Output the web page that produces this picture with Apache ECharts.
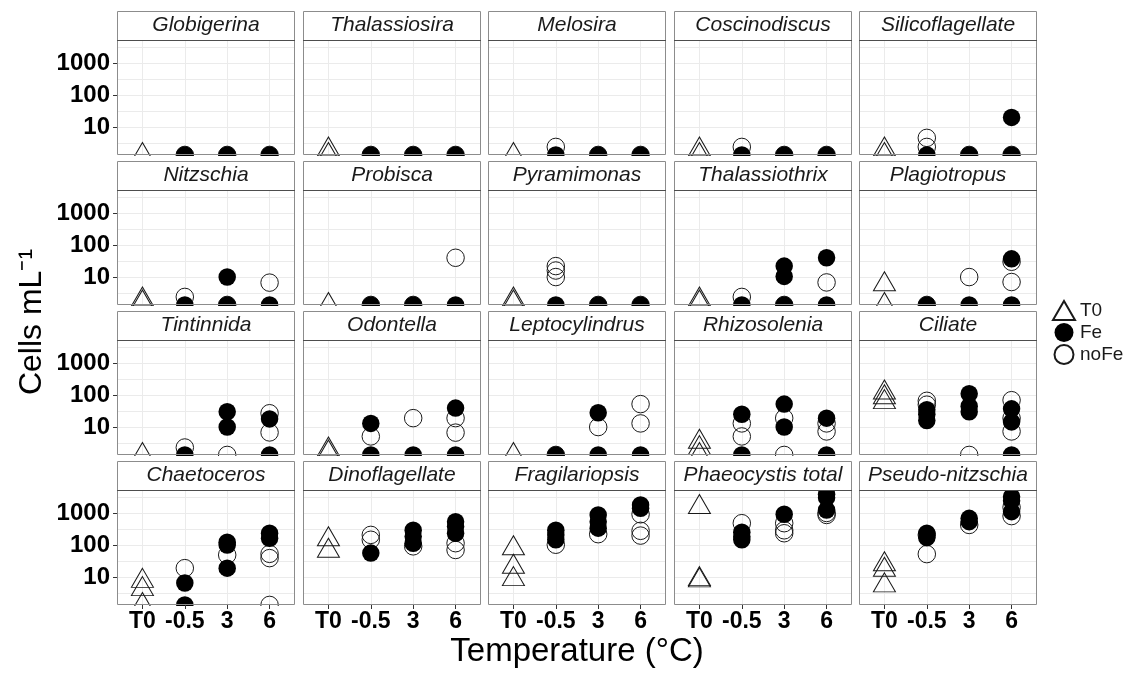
<!DOCTYPE html>
<html>
<head>
<meta charset="utf-8">
<script src="https://cdn.jsdelivr.net/npm/echarts@6/dist/echarts.min.js"></script>
<style>
html, body { margin: 0; background: #fff; }
#chart { width: 1136px; height: 674px; }
</style>
</head>
<body>
<div id="chart"></div>
<script>
// cells per mL; 1.35 = sits on the bottom edge of the panel
var species = ['Globigerina', 'Thalassiosira', 'Melosira', 'Coscinodiscus', 'Silicoflagellate',
	'Nitzschia', 'Probisca', 'Pyramimonas', 'Thalassiothrix', 'Plagiotropus',
	'Tintinnida', 'Odontella', 'Leptocylindrus', 'Rhizosolenia', 'Ciliate',
	'Chaetoceros', 'Dinoflagellate', 'Fragilariopsis', 'Phaeocystis total', 'Pseudo-nitzschia'];
var temps = ['T0', '-0.5', '3', '6'];

// T0 values per species
var t0Cells = [
	[1.35], [2, 1.35], [1.35], [2, 1.35], [2, 1.35],
	[2, 1.6], [1.35], [2, 1.6], [2, 1.6], [6, 1.35],
	[1.35], [2, 1.6], [1.35], [3.5, 2.2, 1.35], [120, 85, 60],
	[7.6, 4.2, 1.35], [151, 66], [79, 21, 8.6], [1540, 8.6, 7.9], [25, 17, 5.5]
];
// Fe values per species, for -0.5, 3, 6
var feCells = [
	[[1.35], [1.35], [1.35]],
	[[1.35], [1.35], [1.35]],
	[[1.35], [1.35], [1.35]],
	[[1.35], [1.35], [1.35]],
	[[1.35], [1.35], [20, 1.35]],
	[[1.35], [10, 1.35], [1.35]],
	[[1.35], [1.35], [1.35]],
	[[1.35], [1.35], [1.35]],
	[[1.35], [22, 10.5, 1.35], [40, 1.35]],
	[[1.35], [1.35], [37, 1.35]],
	[[1.35], [30, 10], [18, 1.35]],
	[[13, 1.35], [1.35], [39, 1.35]],
	[[1.35], [28, 1.35], [1.35]],
	[[25, 1.35], [52, 10], [19, 1.35]],
	[[35, 25, 16], [110, 45, 30], [37, 14.5, 1.35]],
	[[6.5, 1.35], [123, 100, 19], [233, 163]],
	[[56], [288, 183, 114], [536, 378, 233]],
	[[288, 207, 145], [867, 536, 336], [1778, 1400]],
	[[250, 183, 145], [910], [3830, 3000, 1240]],
	[[233, 170], [680, 536], [3200, 2400, 1100]]
];
// noFe values per species, for -0.5, 3, 6
var noFeCells = [
	[[1.35], [1.35], [1.35]],
	[[1.35], [1.35], [1.35]],
	[[2.4], [1.35], [1.35]],
	[[2.4], [1.35], [1.35]],
	[[4.6, 2.4], [1.35], [1.35]],
	[[2.4], [1.35], [6.7]],
	[[1.35], [1.35], [40]],
	[[22, 16, 10], [1.35], [1.35]],
	[[2.4], [1.35], [6.8]],
	[[1.35], [10], [30, 7]],
	[[2.3], [1.35], [27, 6.8]],
	[[5.1], [19], [19, 6.7]],
	[[1.35], [10], [52, 13]],
	[[13, 5.1], [19, 1.35], [13, 7.3]],
	[[66, 50], [1.35], [69, 19, 7.3]],
	[[19], [49], [53, 39, 1.35]],
	[[207, 146], [91], [114, 70]],
	[[102], [218], [910, 277, 197]],
	[[480], [480, 288, 233], [1000, 867]],
	[[207, 52], [423], [1500, 800]]
];

var yTicks = [10, 100, 1000];
var yGrid = [3.162, 10, 31.62, 100, 316.2, 1000, 3162];

var font = '"Liberation Sans", Arial, Helvetica, sans-serif';
var panelW = 178, panelH = 115, stripH = 29;
var chart = echarts.init(document.getElementById('chart'));

var grids = [], xAxes = [], yAxes = [], series = [], graphics = [];

function points(byTemp) {
	var out = [];
	byTemp.forEach(function (vals, k) {
		vals.forEach(function (v) { out.push([k + 1, v]); });
	});
	return out;
}

species.forEach(function (name, i) {
	var row = Math.floor(i / 5), col = i % 5;
	var left = Math.round(117 + col * 185.5), top = 40 + row * 150;
	grids.push({ left: left, top: top, width: panelW, height: panelH });

	var xi = xAxes.length;
	xAxes.push({
		type: 'value', gridIndex: i, min: -0.6, max: 3.6,
		axisLine: { show: false, onZero: false },
		axisTick: { show: false, customValues: [0, 1, 2, 3] },
		axisLabel: { show: false },
		splitLine: { lineStyle: { color: '#ebebeb', width: 1 } }
	});
	if (row === 3) {
		xAxes.push({
			type: 'value', gridIndex: i, min: -0.6, max: 3.6, position: 'bottom', z: 30,
			axisLine: { show: false, onZero: false },
			axisTick: { customValues: [0, 1, 2, 3], length: 4, lineStyle: { color: '#333' } },
			axisLabel: {
				customValues: [0, 1, 2, 3], margin: 5,
				formatter: function (v) { return temps[Math.round(v)]; },
				fontSize: 23, fontWeight: 'bold', color: '#000', fontFamily: font
			},
			splitLine: { show: false }
		});
	}

	var yi = yAxes.length;
	yAxes.push({
		type: 'log', logBase: 10, gridIndex: i, min: 1.343, max: 5212,
		axisLine: { show: false, onZero: false },
		axisTick: { show: false, customValues: yGrid },
		axisLabel: { show: false },
		splitLine: { lineStyle: { color: '#ebebeb', width: 1 } }
	});
	if (col === 0) {
		yAxes.push({
			type: 'log', logBase: 10, gridIndex: i, min: 1.343, max: 5212, position: 'left',
			axisLine: { show: false, onZero: false },
			axisTick: { customValues: yTicks, length: 4, lineStyle: { color: '#333' } },
			axisLabel: {
				customValues: yTicks, margin: 7,
				formatter: function (v) { return String(Math.round(v)); },
				fontSize: 24, fontWeight: 'bold', color: '#000', fontFamily: font
			},
			splitLine: { show: false }
		});
	}

	series.push({
		name: 'T0', type: 'scatter', xAxisIndex: xi, yAxisIndex: yi,
		symbol: 'triangle', symbolSize: [22, 19], symbolOffset: [0, -3],
		itemStyle: { color: 'rgba(0,0,0,0)', borderColor: '#1a1a1a', borderWidth: 1, opacity: 1 },
		data: t0Cells[i].map(function (v) { return [0, v]; })
	});
	series.push({
		name: 'noFe', type: 'scatter', xAxisIndex: xi, yAxisIndex: yi,
		symbol: 'circle', symbolSize: 17.5,
		itemStyle: { color: 'rgba(0,0,0,0)', borderColor: '#1a1a1a', borderWidth: 1, opacity: 1 },
		data: points(noFeCells[i])
	});
	series.push({
		name: 'Fe', type: 'scatter', xAxisIndex: xi, yAxisIndex: yi,
		symbol: 'circle', symbolSize: 17.5,
		itemStyle: { color: '#000', opacity: 1 },
		data: points(feCells[i])
	});

	// hide the lower half of points sitting on the panel floor
	graphics.push({
		type: 'rect', z: 20, silent: true,
		shape: { x: left - 2, y: top + panelH + 1, width: panelW + 4, height: row < 3 ? 10 : 8 },
		style: { fill: '#fff' }
	});
	graphics.push({
		type: 'rect', z: 21, silent: true,
		shape: { x: left + 0.5, y: top - stripH + 0.5, width: panelW - 1, height: stripH },
		style: { fill: '#fff', stroke: '#8c8c8c', lineWidth: 1 }
	});
	graphics.push({
		type: 'rect', z: 22, silent: true,
		shape: { x: left + 0.5, y: top + 0.5, width: panelW - 1, height: panelH - 1 },
		style: { fill: 'none', stroke: '#8c8c8c', lineWidth: 1 }
	});
	graphics.push({
		type: 'line', z: 23, silent: true,
		shape: { x1: left, y1: top + 0.5, x2: left + panelW, y2: top + 0.5 },
		style: { stroke: '#4d4d4d', lineWidth: 1 }
	});
	graphics.push({
		type: 'text', z: 24, silent: true,
		x: left + panelW / 2, y: top - stripH / 2,
		style: {
			text: name, fontSize: 21, fontStyle: 'italic', fontFamily: font, fill: '#1a1a1a',
			align: 'center', verticalAlign: 'middle', textAlign: 'center', textVerticalAlign: 'middle'
		}
	});
});

graphics.push({
	type: 'text', z: 24, silent: true, x: 577, y: 652,
	style: {
		text: 'Temperature (\u00b0C)', fontSize: 33, fontFamily: font, fill: '#000',
		align: 'center', verticalAlign: 'middle', textAlign: 'center', textVerticalAlign: 'middle'
	}
});
graphics.push({
	type: 'text', z: 24, silent: true, x: 32, y: 322, rotation: Math.PI / 2,
	style: {
		text: 'Cells mL\u207b\u00b9', fontSize: 32, fontFamily: font, fill: '#000',
		align: 'center', verticalAlign: 'middle', textAlign: 'center', textVerticalAlign: 'middle'
	}
});

var option = {
	animation: false,
	backgroundColor: '#fff',
	grid: grids,
	xAxis: xAxes,
	yAxis: yAxes,
	series: series,
	graphic: graphics,
	legend: {
		orient: 'vertical', left: 1047, top: 295,
		itemWidth: 22, itemHeight: 19, itemGap: 2, selectedMode: false,
		textStyle: { fontSize: 19, color: '#1a1a1a', fontFamily: font },
		data: ['T0', 'Fe', 'noFe']
	}
};
chart.setOption(option);
</script>
</body>
</html>
